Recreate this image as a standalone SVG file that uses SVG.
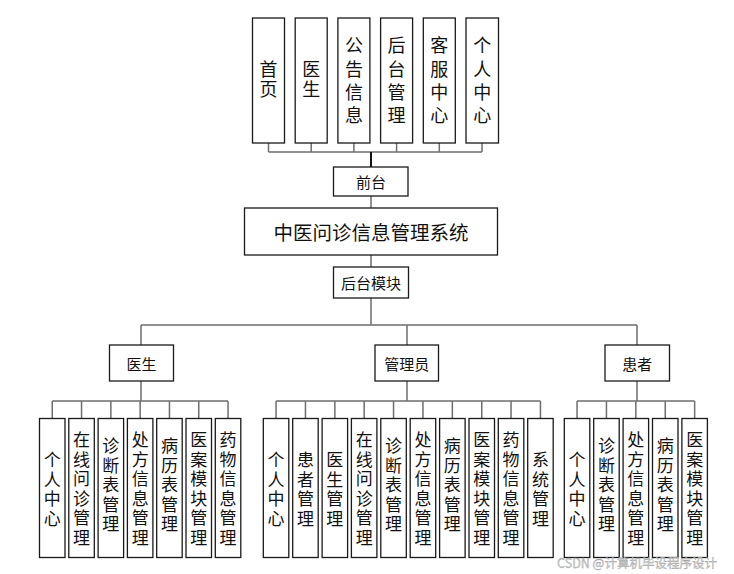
<svg xmlns="http://www.w3.org/2000/svg" width="734" height="574" viewBox="0 0 734 574">
<style>
.b{fill:#fff;stroke:#1a1a1a;stroke-width:1.3}
.t{font-family:"Noto Sans CJK SC","Noto Sans",sans-serif;fill:#111;text-anchor:middle;dominant-baseline:central}
.vt{writing-mode:vertical-rl;text-anchor:middle}
.v{font-size:17px;letter-spacing:2.5px}
.tv4{font-size:18px;letter-spacing:5.3px}
.tv2{font-size:18px;letter-spacing:2px}
.n{font-size:15px}
.c{fill:none;stroke:#6e6e6e;stroke-width:1.5}
.k{fill:none;stroke:#111;stroke-width:2}
</style>
<rect width="734" height="574" fill="#fff"/>
<g id="connectors">
<path class="c" d="M268.5 143V152M311.2 143V152M353.9 143V152M396.6 143V152M439.3 143V152M482 143V152M268.5 152H482"/>
<path class="k" d="M371 152V167"/>
<path class="c" d="M371 196V208M371 255V267M371 298V325M141 325H637M141 325V345M407 325V345M637 325V345"/>
<path class="c" d="M141 381V401M52.25 401H228.05M52.25 401V418M81.55 401V418M110.85 401V418M140.15 401V418M169.45 401V418M198.75 401V418M228.05 401V418"/>
<path class="c" d="M407 381V401M276.05 401H540.45M276.05 401V418M305.45 401V418M334.85 401V418M364.15 401V418M393.55 401V418M422.95 401V418M452.35 401V418M481.75 401V418M511.05 401V418M540.45 401V418"/>
<path class="c" d="M637 381V401M577.05 401H694.65M577.05 401V418M606.45 401V418M635.85 401V418M665.25 401V418M694.65 401V418"/>
</g>
<g id="top-shouye"><rect class="b" x="252.5" y="18" width="32" height="125"/><text class="t vt tv2" x="268.5" y="80.5">首页</text></g>
<g id="top-yisheng"><rect class="b" x="295.2" y="18" width="32" height="125"/><text class="t vt tv2" x="311.2" y="80.5">医生</text></g>
<g id="top-gonggao"><rect class="b" x="337.9" y="18" width="32" height="125"/><text class="t vt tv4" x="353.9" y="83">公告信息</text></g>
<g id="top-houtai"><rect class="b" x="380.6" y="18" width="32" height="125"/><text class="t vt tv4" x="396.6" y="83">后台管理</text></g>
<g id="top-kefu"><rect class="b" x="423.3" y="18" width="32" height="125"/><text class="t vt tv4" x="439.3" y="83">客服中心</text></g>
<g id="top-geren"><rect class="b" x="466" y="18" width="32.5" height="125"/><text class="t vt tv4" x="482.2" y="83">个人中心</text></g>
<g id="qiantai"><rect class="b" x="333.5" y="167" width="74.5" height="29"/><text class="t n" x="371" y="181.5">前台</text></g>
<g id="system"><rect class="b" x="244.5" y="208" width="253" height="47"/><text class="t" style="font-size:19.5px" x="371" y="231.5">中医问诊信息管理系统</text></g>
<g id="houtaimokuai"><rect class="b" x="333.5" y="267" width="75" height="31"/><text class="t n" x="371" y="282.5">后台模块</text></g>
<g id="doctor"><rect class="b" x="109.5" y="345" width="64" height="36"/><text class="t n" x="141.5" y="363">医生</text></g>
<g id="admin"><rect class="b" x="375" y="345" width="63.5" height="36"/><text class="t n" x="406.8" y="363">管理员</text></g>
<g id="patient"><rect class="b" x="605" y="345" width="64.5" height="36"/><text class="t n" x="637.2" y="363">患者</text></g>
<g id="d1"><rect class="b" x="39.5" y="418.5" width="25.5" height="139"/><text class="t vt v" x="52.25" y="490.5">个人中心</text></g>
<g id="d2"><rect class="b" x="68.8" y="418.5" width="25.5" height="139"/><text class="t vt v" x="81.55" y="490">在线问诊管理</text></g>
<g id="d3"><rect class="b" x="98.1" y="418.5" width="25.5" height="139"/><text class="t vt v" x="110.85" y="486">诊断表管理</text></g>
<g id="d4"><rect class="b" x="127.4" y="418.5" width="25.5" height="139"/><text class="t vt v" x="140.15" y="490">处方信息管理</text></g>
<g id="d5"><rect class="b" x="156.7" y="418.5" width="25.5" height="139"/><text class="t vt v" x="169.45" y="486">病历表管理</text></g>
<g id="d6"><rect class="b" x="186" y="418.5" width="25.5" height="139"/><text class="t vt v" x="198.75" y="490">医案模块管理</text></g>
<g id="d7"><rect class="b" x="215.3" y="418.5" width="25.5" height="139"/><text class="t vt v" x="228.05" y="490">药物信息管理</text></g>
<g id="a1"><rect class="b" x="263.3" y="418.5" width="25.5" height="139"/><text class="t vt v" x="276.05" y="490.5">个人中心</text></g>
<g id="a2"><rect class="b" x="292.7" y="418.5" width="25.5" height="139"/><text class="t vt v" x="305.45" y="490.5">患者管理</text></g>
<g id="a3"><rect class="b" x="322.1" y="418.5" width="25.5" height="139"/><text class="t vt v" x="334.85" y="490.5">医生管理</text></g>
<g id="a4"><rect class="b" x="351.4" y="418.5" width="25.5" height="139"/><text class="t vt v" x="364.15" y="490">在线问诊管理</text></g>
<g id="a5"><rect class="b" x="380.8" y="418.5" width="25.5" height="139"/><text class="t vt v" x="393.55" y="486">诊断表管理</text></g>
<g id="a6"><rect class="b" x="410.2" y="418.5" width="25.5" height="139"/><text class="t vt v" x="422.95" y="490">处方信息管理</text></g>
<g id="a7"><rect class="b" x="439.6" y="418.5" width="25.5" height="139"/><text class="t vt v" x="452.35" y="486">病历表管理</text></g>
<g id="a8"><rect class="b" x="469" y="418.5" width="25.5" height="139"/><text class="t vt v" x="481.75" y="490">医案模块管理</text></g>
<g id="a9"><rect class="b" x="498.3" y="418.5" width="25.5" height="139"/><text class="t vt v" x="511.05" y="490">药物信息管理</text></g>
<g id="a10"><rect class="b" x="527.7" y="418.5" width="25.5" height="139"/><text class="t vt v" x="540.45" y="490.5">系统管理</text></g>
<g id="p1"><rect class="b" x="564.3" y="418.5" width="25.5" height="139"/><text class="t vt v" x="577.05" y="490.5">个人中心</text></g>
<g id="p2"><rect class="b" x="593.7" y="418.5" width="25.5" height="139"/><text class="t vt v" x="606.45" y="486">诊断表管理</text></g>
<g id="p3"><rect class="b" x="623.1" y="418.5" width="25.5" height="139"/><text class="t vt v" x="635.85" y="490">处方信息管理</text></g>
<g id="p4"><rect class="b" x="652.5" y="418.5" width="25.5" height="139"/><text class="t vt v" x="665.25" y="486">病历表管理</text></g>
<g id="p5"><rect class="b" x="681.9" y="418.5" width="25.5" height="139"/><text class="t vt v" x="694.65" y="490">医案模块管理</text></g>
<text x="637" y="562" style="font-family:'Noto Sans CJK SC','Noto Sans',sans-serif;font-size:12.5px;fill:#d0d0d0;stroke:#9a9a9a;stroke-width:0.3;text-anchor:middle;dominant-baseline:central">CSDN @计算机毕设程序设计</text>
</svg>
